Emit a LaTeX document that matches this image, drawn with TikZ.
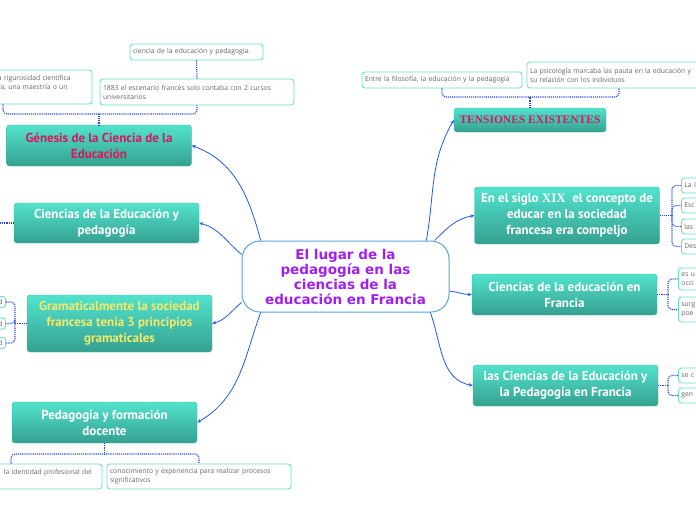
\documentclass[tikz,border=0pt]{standalone}
\usepackage{fontspec}
\setmainfont{Open Sans}
\newfontfamily\topfont{PT Sans}
\newfontfamily\rootfont{DejaVu Sans}
\newfontfamily\serfont{Liberation Serif}
\usetikzlibrary{arrows.meta,calc}
\definecolor{tealtop}{HTML}{52E3CD}
\definecolor{tealbot}{HTML}{35A08F}
\definecolor{subline}{HTML}{6ADFCF}
\definecolor{linkc}{HTML}{1F5BEA}
\definecolor{dotc}{HTML}{2444E6}
\definecolor{crim}{HTML}{D8175E}
\definecolor{yel}{HTML}{F4E96A}
\definecolor{purp}{HTML}{A020F0}
\definecolor{rootline}{HTML}{5CA3D9}
\definecolor{subtxt}{HTML}{666666}
\tikzset{
  >={Stealth[length=4pt,width=3.5pt]},
  rootbox/.style={rectangle,rounded corners=18pt,draw=rootline,line width=1pt,fill=white,minimum width=207pt,minimum height=71pt,align=center,font=\rootfont\bfseries\fontsize{13.5}{15}\selectfont,text=purp},
  topic/.style={rectangle,rounded corners=3pt,top color=tealtop,bottom color=tealbot,draw=tealbot!70!tealtop,line width=0.4pt,minimum width=185pt,align=center,font=\topfont\bfseries\fontsize{13}{16}\selectfont,text=white,inner sep=0pt},
  sub/.style={rectangle,rounded corners=3pt,draw=subline,line width=0.9pt,fill=white,align=left,font=\fontsize{6.8}{9}\selectfont,text=subtxt,inner sep=3pt},
  link/.style={->,draw=linkc,line width=0.8pt},
  dotl/.style={draw=dotc,line width=1.1pt,densely dotted,rounded corners=4pt},
}
\begin{document}
\begin{tikzpicture}[x=1pt,y=1pt]
\useasboundingbox (0,0) rectangle (696,-520);
% root
\node[rootbox] (root) at (345.5,-276.5) {El lugar de la\\pedagogía en las\\ciencias de la\\educación en Francia};
% Genesis
\node[topic,minimum height=41pt,text=crim] (gen) at (99,-145.5) {Génesis de la Ciencia de la\\Educación};
\node[sub,text width=172pt,minimum height=34pt] (s0) at (3,-87) {\hspace*{81pt}a rigurosidad científica\\\hspace*{81pt}ra, una maestría o un\\\mbox{}};
\node[sub,text width=188pt,minimum height=26pt] (s2) at (197,-92) {1883 el escenario francés solo contaba con 2 cursos\\universitarios};
\node[sub,text width=127pt,minimum height=16pt] (s1) at (196.5,-52) {ciencia de la educación y pedagogía.};
\coordinate (genj) at (99,-114);
\draw[dotl] (s0.south) |- (genj) -| (s2.south);
\draw[dotl] (genj) -- (gen.north);
\draw[dotl] (s1.south) -- (s2.north);
% Ciencias y pedagogia
\node[topic,minimum height=40pt] (cyp) at (106.5,-223) {Ciencias de la Educación y\\pedagogía};
\coordinate (cypx) at (-2,-223);
\draw[dotl] (cyp.west) -- (cypx);
% Gramaticalmente
\node[topic,minimum height=57pt,text=yel] (gram) at (119.5,-323.5) {Gramaticalmente la sociedad\\francesa tenía 3 principios\\gramaticales};
\foreach \i/\y in {1/302,2/323.5,3/343}
  \node[sub,anchor=east,text width=40pt,align=right,minimum height=11pt] (g\i) at (6,-\y) {d};
\coordinate (gramj) at (15,-323.5);
\draw[dotl] (gram.west) -- (gramj);
\foreach \i in {1,2,3} \draw[dotl] (gramj) |- (g\i.east);
% Pedagogia
\node[topic,minimum height=41pt] (ped) at (104.5,-422.5) {Pedagogía y formación\\docente};
\node[sub,text width=176pt,minimum height=25pt] (p1) at (11,-476.5) {\hspace*{81pt}la identidad profesional del\\\mbox{}};
\node[sub,text width=178pt,minimum height=25pt] (p2) at (199,-476.5) {conocimiento y experiencia para realizar procesos\\significativos};
\coordinate (pedj) at (104.5,-454);
\draw[dotl] (ped.south) -- (pedj);
\draw[dotl] (p1.north) |- (pedj) -| (p2.north);
% Tensiones
\node[topic,minimum width=152pt,minimum height=24pt,text=crim,font=\serfont\bfseries\fontsize{11.5}{12}\selectfont] (ten) at (530,-120) {TENSIONES EXISTENTES};
\node[sub,text width=154pt,minimum height=16pt] (t1) at (442,-80) {Entre la filosofía, la educación y la pedagogía};
\node[sub,text width=178pt,minimum height=26pt] (t2) at (619,-75) {La psicología marcaba las pauta en la educación y\\su relación con los individuos};
\coordinate (tenj) at (530,-97);
\draw[dotl] (ten.north) -- (tenj);
\draw[dotl] (t1.south) |- (tenj) -| (t2.south);
% Siglo XIX
\node[topic,minimum height=57pt] (siglo) at (567,-215.5) {En el siglo {\serfont XIX}\ \ el concepto de\\educar en la sociedad\\francesa era compeljo};
\foreach \i/\y/\t in {1/185.5/La I,2/205.5/Esc,3/226.5/las,4/246.5/Des}
  \node[sub,anchor=west,text width=54pt,minimum height=15pt] (x\i) at (681,-\y) {\t};
\coordinate (siglj) at (672,-215.5);
\draw[dotl] (siglo.east) -- (siglj);
\foreach \i in {1,...,4} \draw[dotl] (siglj) |- (x\i.west);
% Ciencias en Francia
\node[topic,minimum height=41pt] (cef) at (564.5,-294.5) {Ciencias de la educación en\\Francia};
\node[sub,anchor=west,text width=54pt,minimum height=22pt] (c1) at (678,-279) {es u\\occi};
\node[sub,anchor=west,text width=54pt,minimum height=25pt] (c2) at (678,-309.5) {surg\\poe};
\coordinate (cefj) at (668,-294.5);
\draw[dotl] (cef.east) -- (cefj);
\foreach \i in {1,2} \draw[dotl] (cefj) |- (c\i.west);
% las Ciencias
\node[topic,minimum height=41pt] (lcp) at (565.5,-385.5) {las Ciencias de la Educación y\\la Pedagogía en Francia};
\node[sub,anchor=west,text width=54pt,minimum height=15pt] (l1) at (678,-375.5) {se c};
\node[sub,anchor=west,text width=54pt,minimum height=15pt] (l2) at (678,-395.5) {gen};
\coordinate (lcpj) at (668,-385.5);
\draw[dotl] (lcp.east) -- (lcpj);
\foreach \i in {1,2} \draw[dotl] (lcpj) |- (l\i.west);
% links
\draw[link] (root.157) to[out=105,in=-20] (gen.east);
\draw[link] (root.168) to[out=140,in=-15] (cyp.east);
\draw[link] (root.194) to[out=220,in=15] (gram.east);
\draw[link] (root.203) to[out=250,in=30] (ped.east);
\draw[link] (root.24) to[out=80,in=240] (ten.west);
\draw[link] (root.22) to[out=45,in=190] (siglo.west);
\draw[link] (root.-8) to[out=-5,in=180] (cef.west);
\draw[link] (root.-23) to[out=-70,in=170] (lcp.west);
\end{tikzpicture}
\end{document}
